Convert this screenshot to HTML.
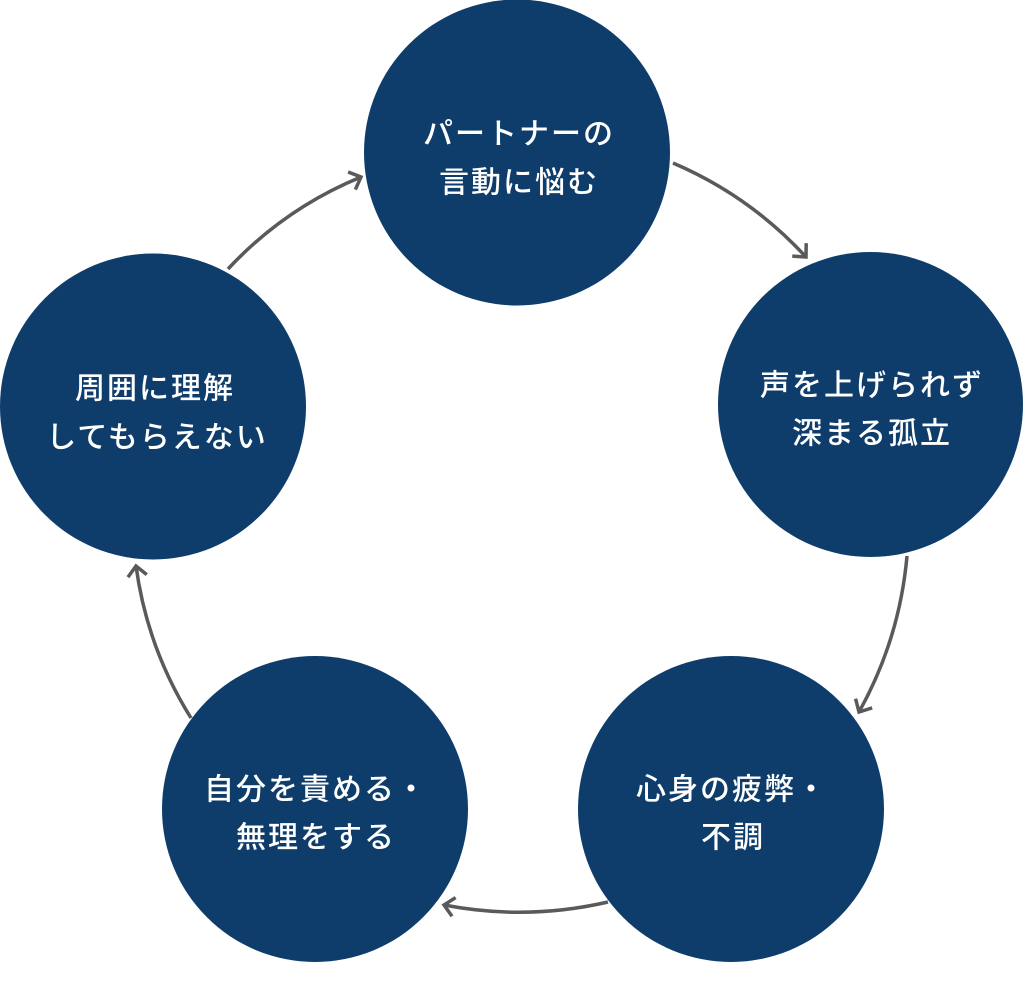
<!DOCTYPE html>
<html>
<head>
<meta charset="utf-8">
<style>
  html,body{margin:0;padding:0;background:#fff;}
  body{width:1024px;height:984px;overflow:hidden;}
  svg{display:block;}
  .t{font-family:"Liberation Sans","Noto Sans CJK JP",sans-serif;font-size:30px;font-weight:500;fill:#ffffff;letter-spacing:2px;text-anchor:middle;}
</style>
</head>
<body>
<svg width="1024" height="984" viewBox="0 0 1024 984" xmlns="http://www.w3.org/2000/svg">
  <defs>
    <marker id="ah" markerUnits="userSpaceOnUse" markerWidth="30" markerHeight="30" refX="0" refY="0" viewBox="-15 -15 30 30" orient="auto">
      <path d="M-10,-9.5 L0,0 L-10,9.5" fill="none" stroke="#5a5a5a" stroke-width="3.5" stroke-linejoin="miter" stroke-linecap="butt"/>
    </marker>
  </defs>

  <!-- connectors -->
  <g fill="none" stroke="#5a5a5a" stroke-width="3.5">
    <path d="M673,163 A388,388 0 0 1 806,257" marker-end="url(#ah)"/>
    <path d="M907,556 A392,392 0 0 1 859,712" marker-end="url(#ah)"/>
    <path d="M608,902 A396,396 0 0 1 444,905" marker-end="url(#ah)"/>
    <path d="M191,718 A384,384 0 0 1 136,566" marker-end="url(#ah)"/>
    <path d="M228,269 A378,378 0 0 1 361,177" marker-end="url(#ah)"/>
  </g>

  <!-- circles -->
  <g fill="#0e3d6b">
    <circle cx="517" cy="152.5" r="153"/>
    <circle cx="870.5" cy="404.5" r="152.5"/>
    <circle cx="731" cy="809" r="153"/>
    <circle cx="315" cy="809" r="153"/>
    <circle cx="153" cy="406.5" r="153"/>
  </g>

  <!-- labels -->
  <text class="t" x="519" y="144">パートナーの</text>
  <text class="t" x="519" y="192.5">言動に悩む</text>

  <text class="t" x="872" y="395.5">声を上げられず</text>
  <text class="t" x="872" y="443.5">深まる孤立</text>

  <text class="t" x="732" y="799.5">心身の疲弊・</text>
  <text class="t" x="733" y="847.5">不調</text>

  <text class="t" x="316" y="799.5">自分を責める・</text>
  <text class="t" x="316" y="847.5">無理をする</text>

  <text class="t" x="155" y="398.5">周囲に理解</text>
  <text class="t" x="157" y="447.5">してもらえない</text>
</svg>
</body>
</html>
